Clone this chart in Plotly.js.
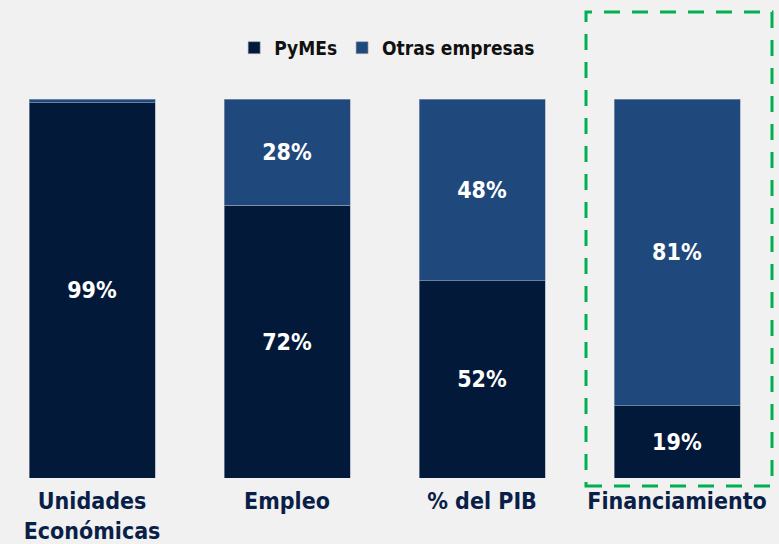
<!DOCTYPE html>
<html>
<head>
<meta charset="utf-8">
<script src="https://cdn.plot.ly/plotly-3.0.1.min.js"></script>
<style>html,body{margin:0;padding:0;background:#f1f1f1;}#chart{width:779px;height:544px;}</style>
</head>
<body>
<div id="chart"></div>
<script>
const categories = ["Unidades<br>Económicas", "Empleo", "% del PIB", "Financiamiento"];
const pymes = [99, 72, 52, 19];
const otras = [1, 28, 48, 81];
const pymesLabels = ["99%", "72%", "52%", "19%"];
const otrasLabels = ["", "28%", "48%", "81%"];

const idx = categories.map((c, i) => i);
const labelFont = {family: "DejaVu Sans Condensed, DejaVu Sans, sans-serif", size: 23, color: "#ffffff", weight: "bold"};
const lineStyle = {color: "#9aa7bb", width: 0.6};

const traces = [
  {type: "bar", name: "PyMEs", x: idx, y: pymes, text: pymesLabels, textposition: "inside",
   insidetextanchor: "middle", textfont: labelFont, marker: {color: "#031939", line: lineStyle},
   width: 0.646, hoverinfo: "skip"},
  {type: "bar", name: "Otras empresas", x: idx, y: otras, text: otrasLabels, textposition: "inside",
   insidetextanchor: "middle", textfont: labelFont, marker: {color: "#1f497d", line: lineStyle},
   width: 0.646, hoverinfo: "skip"}
];

const layout = {
  width: 779, height: 544,
  paper_bgcolor: "#f1f1f1", plot_bgcolor: "#f1f1f1",
  barmode: "stack",
  margin: {l: 0, r: 0, t: 99, b: 66},
  showlegend: true,
  legend: {orientation: "h", x: 0.497, xanchor: "center", y: 1.135, yanchor: "middle",
           font: {family: "DejaVu Sans Condensed, DejaVu Sans, sans-serif", size: 19, color: "#111111", weight: "bold"},
           bgcolor: "rgba(0,0,0,0)", itemwidth: 30, traceorder: "normal"},
  xaxis: {range: [-0.472, 3.523], tickvals: idx, ticktext: categories, showgrid: false, zeroline: false,
          showline: false, ticks: "", fixedrange: true, ticklabelstandoff: 7,
          tickfont: {family: "DejaVu Sans Condensed, DejaVu Sans, sans-serif", size: 23, color: "#0a1f47", weight: "bold"}},
  yaxis: {range: [0, 100], visible: false, showgrid: false, zeroline: false, fixedrange: true},
  shapes: [{type: "rect", xref: "paper", yref: "paper", x0: 586/779, x1: 772/779, y0: -0.021, y1: 1.2296,
            line: {color: "#00b050", width: 3, dash: "16px,12px"}, fillcolor: "rgba(0,0,0,0)"}]
};

Plotly.newPlot("chart", traces, layout, {displayModeBar: false, staticPlot: true});
</script>
</body>
</html>
